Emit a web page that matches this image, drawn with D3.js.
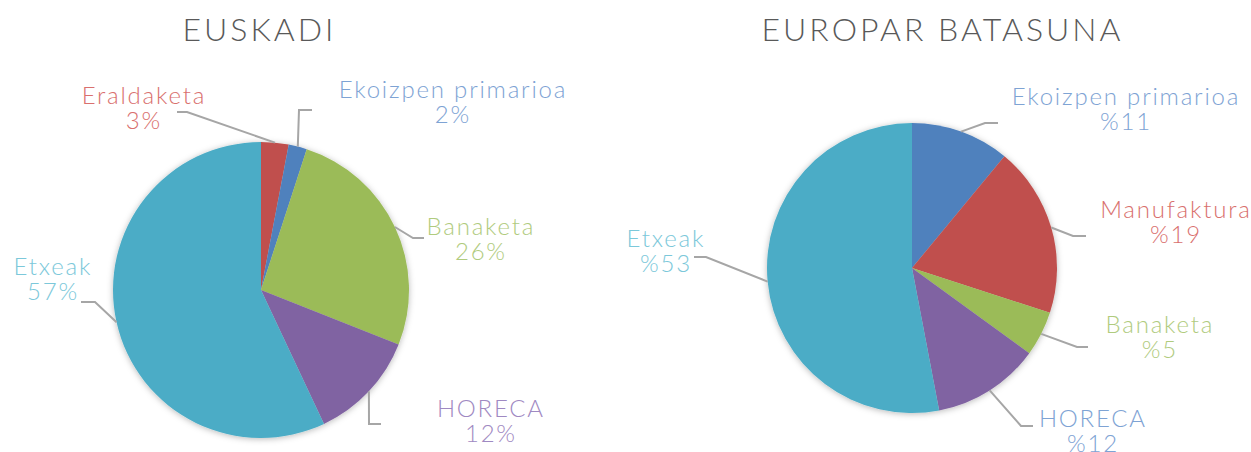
<!DOCTYPE html>
<html>
<head>
<meta charset="utf-8">
<script src="https://cdn.jsdelivr.net/npm/d3@7"></script>
<style>
  html, body { margin: 0; padding: 0; background: #ffffff; }
  svg { display: block; }
  text { font-family: Lato, "Open Sans", sans-serif; font-weight: 300; }
</style>
</head>
<body>
<div id="chart"></div>
<script>
// ---------- data ----------
const titles = ["EUSKADI", "EUROPAR BATASUNA"];

const euskadiCategories = ["Eraldaketa", "Ekoizpen primarioa", "Banaketa", "HORECA", "Etxeak"];
const euskadiValues = [3, 2, 26, 12, 57];
const euskadiLabels = ["3%", "2%", "26%", "12%", "57%"];

const europeCategories = ["Ekoizpen primarioa", "Manufaktura", "Banaketa", "HORECA", "Etxeak"];
const europeValues = [11, 19, 5, 12, 53];
const europeLabels = ["%11", "%19", "%5", "%12", "%53"];

// ---------- styles ----------
const euskadiColors = ["#C0504D", "#4F81BD", "#9BBB59", "#8064A2", "#4BACC6"];
const euskadiTextColors = ["#D9706E", "#7EA3D4", "#B0CB7E", "#9F89C2", "#7CC8DA"];
const europeColors = ["#4F81BD", "#C0504D", "#9BBB59", "#8064A2", "#4BACC6"];
const europeTextColors = ["#7EA3D4", "#D9706E", "#B0CB7E", "#7EA3D4", "#7CC8DA"];

// leader layout relative to pie centre: [elbow, end, labelAnchor]
const euskadiLayout = [
  {elbow: [-74, -178], end: [-84, -178], label: [-118, -186]},
  {elbow: [38, -180], end: [51, -180], label: [191, -192]},
  {elbow: [152, -52], end: [163, -52], label: [219, -55]},
  {elbow: [108, 134], end: [120, 134], label: [229, 127]},
  {elbow: [-166, 12], end: [-180, 12], label: [-209, -15]}
];
const europeLayout = [
  {elbow: [73, -145], end: [86, -145], label: [213, -163]},
  {elbow: [161, -32], end: [174, -32], label: [263, -50]},
  {elbow: [165, 79], end: [176, 79], label: [247, 65]},
  {elbow: [109, 158], end: [121, 158], label: [180, 159]},
  {elbow: [-206, -11], end: [-218, -11], label: [-247, -21]}
];

const W = 1251, H = 452;
const svg = d3.select("#chart").append("svg").attr("width", W).attr("height", H);

const defs = svg.append("defs");
const f = defs.append("filter").attr("id", "shadow")
  .attr("x", "-20%").attr("y", "-20%").attr("width", "140%").attr("height", "140%");
f.append("feDropShadow").attr("dx", 0).attr("dy", 1).attr("stdDeviation", 3)
  .attr("flood-color", "#000").attr("flood-opacity", 0.28);

function drawPie(cfg) {
  const g = svg.append("g").attr("transform", `translate(${cfg.cx},${cfg.cy})`);
  const pie = d3.pie().sort(null).value(d => d);
  const arcs = pie(cfg.values);
  const arc = d3.arc().innerRadius(0).outerRadius(cfg.r);

  g.append("g").attr("filter", "url(#shadow)")
    .selectAll("path").data(arcs).join("path")
    .attr("d", arc).attr("fill", (d, i) => cfg.colors[i]);

  const ls = 1.8;
  const line = d3.line();
  arcs.forEach((a, i) => {
    const mid = (a.startAngle + a.endAngle) / 2;
    const p0 = [cfg.r * Math.sin(mid), -cfg.r * Math.cos(mid)];
    const L = cfg.layout[i];
    g.append("path")
      .attr("d", line([p0, L.elbow, L.end]))
      .attr("fill", "none").attr("stroke", "#A6A6A6").attr("stroke-width", 2);
    const x = L.label[0] + ls / 2;
    const t = g.append("text")
      .attr("x", x).attr("y", L.label[1])
      .attr("text-anchor", "middle")
      .attr("fill", cfg.textColors[i])
      .style("font-size", "24px").style("letter-spacing", ls + "px");
    t.append("tspan").attr("x", x).text(cfg.categories[i]);
    t.append("tspan").attr("x", x).attr("dy", 25).text(cfg.labels[i]);
  });

  svg.append("text")
    .attr("x", cfg.titleX + 1.5).attr("y", 41)
    .attr("text-anchor", "middle")
    .attr("fill", "#595959")
    .style("font-size", "32px").style("letter-spacing", "3px")
    .text(cfg.title);
}

drawPie({cx: 261, cy: 290, r: 148, values: euskadiValues, categories: euskadiCategories,
  labels: euskadiLabels, colors: euskadiColors, textColors: euskadiTextColors,
  layout: euskadiLayout, title: titles[0], titleX: 258});
drawPie({cx: 912, cy: 268, r: 145, values: europeValues, categories: europeCategories,
  labels: europeLabels, colors: europeColors, textColors: europeTextColors,
  layout: europeLayout, title: titles[1], titleX: 941});
</script>
</body>
</html>
